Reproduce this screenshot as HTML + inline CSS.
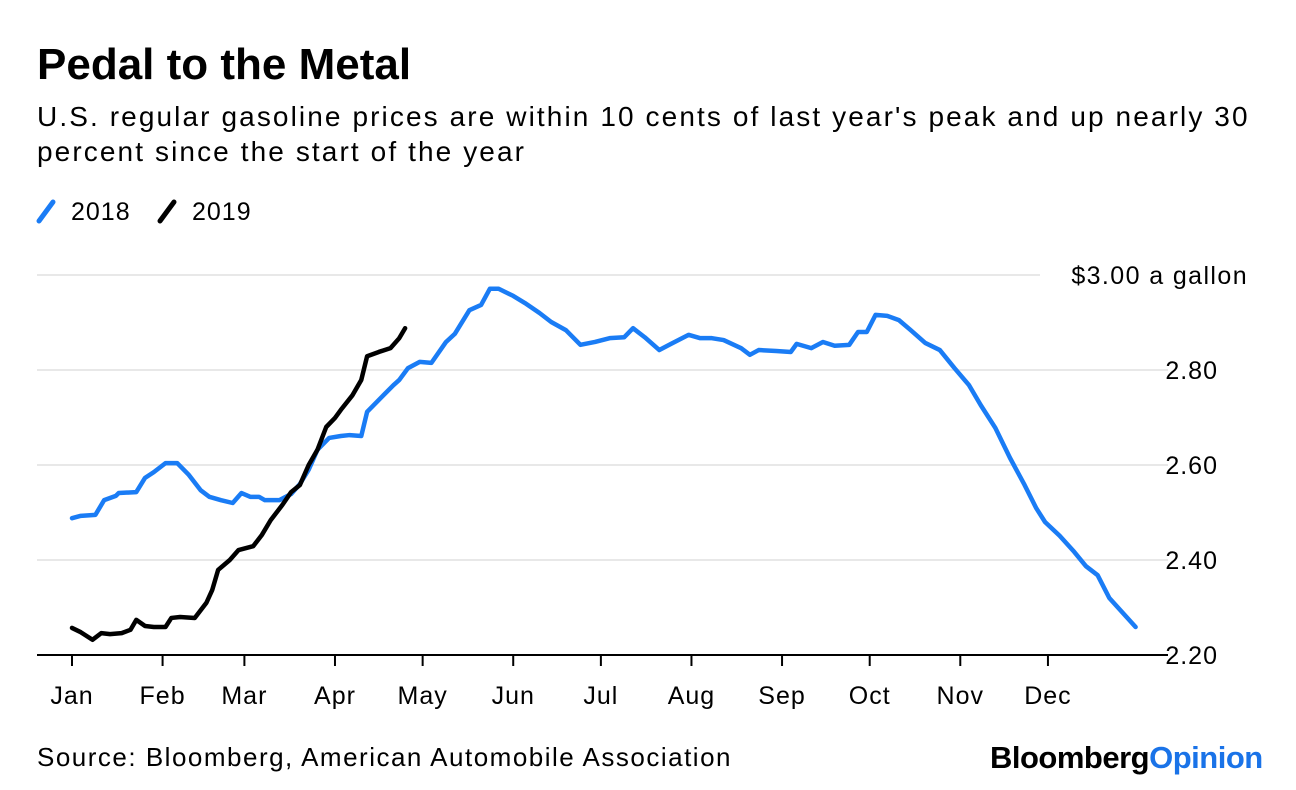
<!DOCTYPE html>
<html><head><meta charset="utf-8"><style>
body{margin:0;width:1296px;height:790px;background:#fff;font-family:"Liberation Sans",sans-serif;overflow:hidden;position:relative}
.t{position:absolute;white-space:nowrap;color:#000}
</style></head><body>
<div class="t" style="left:37px;top:40px;font-size:44px;font-weight:bold;letter-spacing:0px">Pedal to the Metal</div>
<div class="t" style="left:37px;top:99px;font-size:28px;line-height:35px;letter-spacing:2.1px">U.S. regular gasoline prices are within 10 cents of last year's peak and up nearly 30<br>percent since the start of the year</div>
<div class="t" style="left:37px;top:742px;font-size:26px;letter-spacing:1.5px">Source: Bloomberg, American Automobile Association</div>
<div class="t" style="left:990px;top:740px;font-size:31px;font-weight:bold;letter-spacing:-0.5px">Bloomberg<span style="color:#1a73e8">Opinion</span></div>
<svg id="chart" width="1296" height="790" style="position:absolute;left:0;top:0"></svg>
<script>
const days2018=[0,3,8,11,15,16,22,25,28,32,36,40,44,47,51,55,58,61,64,66,71,75,78,81,84,88,92,95,99,101,105,110,112,115,119,123,128,131,136,140,143,146,151,155,160,164,169,174,179,184,189,192,196,201,205,211,215,219,223,229,232,235,241,246,248,253,257,261,266,269,272,275,279,283,287,292,297,302,307,311,316,321,326,330,333,338,343,347,351,355,360,364];
const prices2018=[2.488,2.493,2.495,2.526,2.535,2.541,2.543,2.573,2.585,2.604,2.604,2.579,2.547,2.533,2.526,2.52,2.541,2.533,2.533,2.526,2.526,2.539,2.56,2.59,2.632,2.657,2.661,2.663,2.661,2.712,2.737,2.768,2.779,2.804,2.817,2.815,2.859,2.876,2.926,2.937,2.971,2.971,2.956,2.941,2.92,2.901,2.884,2.853,2.859,2.867,2.869,2.888,2.869,2.842,2.855,2.874,2.867,2.867,2.863,2.846,2.832,2.842,2.84,2.838,2.855,2.846,2.859,2.851,2.853,2.88,2.88,2.916,2.914,2.905,2.884,2.857,2.842,2.804,2.768,2.726,2.678,2.615,2.558,2.509,2.48,2.451,2.417,2.387,2.368,2.32,2.286,2.259];
const days2019=[0,3,7,10,13,17,20,22,25,28,32,34,37,42,46,48,50,54,57,62,65,68,72,75,78,81,84,87,90,92,96,99,101,105,109,112,114];
const prices2019=[2.257,2.248,2.232,2.246,2.244,2.246,2.253,2.274,2.261,2.259,2.259,2.278,2.28,2.278,2.31,2.337,2.379,2.4,2.421,2.429,2.453,2.484,2.516,2.543,2.558,2.6,2.632,2.68,2.699,2.716,2.747,2.779,2.829,2.838,2.846,2.867,2.888];
const yTicks=[2.2,2.4,2.6,2.8,3.0];
const yTickLabels=["2.20","2.40","2.60","2.80","$3.00 a gallon"];
const months=["Jan","Feb","Mar","Apr","May","Jun","Jul","Aug","Sep","Oct","Nov","Dec"];
const monthStarts=[0,31,59,90,120,151,181,212,243,273,304,334];
const NS="http://www.w3.org/2000/svg";
const svg=document.getElementById('chart');
const xs=d=>72+d*2.922;
const ys=v=>655-(v-2.2)*475;
function mk(t,a){const e=document.createElementNS(NS,t);for(const k in a)e.setAttribute(k,a[k]);svg.appendChild(e);return e;}
yTicks.forEach((v,i)=>{
  const top=i===yTicks.length-1;
  if(i>0){const g=mk('line',{x1:37,x2:top?1040:1168,y1:ys(v),y2:ys(v),stroke:'#e8e8e8','stroke-width':2});
  
  }
  const t=mk('text',{x:top?1248:1218,y:ys(v)+9,'text-anchor':'end','font-size':25,'letter-spacing':top?1.4:1,'font-family':'Liberation Sans, sans-serif'});
  t.textContent=yTickLabels[i];
  
  
});
const ax=mk('line',{x1:37,x2:1168,y1:655,y2:655,stroke:'#000','stroke-width':2});


months.forEach((m,i)=>{
  const x=xs(monthStarts[i]);
  const tk=mk('line',{x1:x,x2:x,y1:655,y2:666,stroke:'#000','stroke-width':2});
  
  
  const t=mk('text',{x:x,y:704,'text-anchor':'middle','font-size':25,'letter-spacing':1,'font-family':'Liberation Sans, sans-serif'});
  t.textContent=m;
  
  
});
function line(ds,vs,c,n){
  const p=mk('polyline',{points:ds.map((d,i)=>xs(d)+','+ys(vs[i])).join(' '),fill:'none',stroke:c,'stroke-width':4.5,'stroke-linejoin':'round','stroke-linecap':'round'});
  
  
}
line(days2018,prices2018,'#1a7cf5','line-2018');
line(days2019,prices2019,'#000','line-2019');
[['#1a7cf5','2018',37,'legend-2018'],['#000','2019',158,'legend-2019']].forEach(([c,l,x,n])=>{
  const s=mk('line',{x1:x+2,y1:221,x2:x+16,y2:202,stroke:c,'stroke-width':5,'stroke-linecap':'round'});
  
  
  const t=mk('text',{x:x+34,y:220,'font-size':25,'letter-spacing':1,'font-family':'Liberation Sans, sans-serif'});
  t.textContent=l;
  
  
});
</script>
</body></html>
